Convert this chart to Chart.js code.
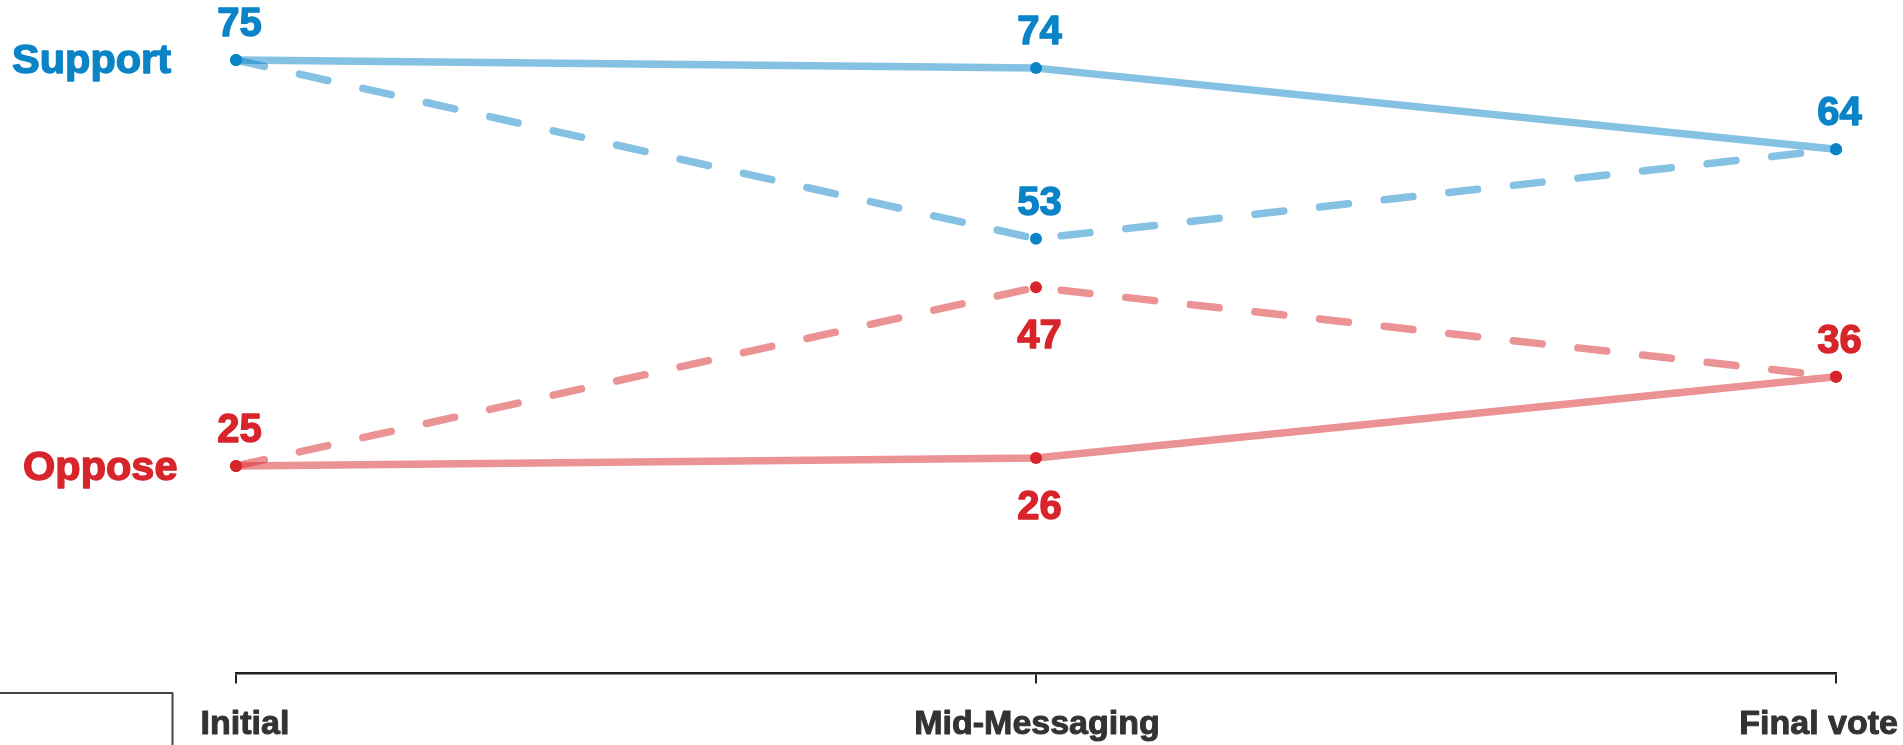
<!DOCTYPE html>
<html>
<head>
<meta charset="utf-8">
<script src="https://cdn.jsdelivr.net/npm/chart.js@4"></script>
<style>
  html, body { margin: 0; padding: 0; background: #ffffff; }
  #wrap { position: relative; width: 1903px; height: 745px; }
</style>
</head>
<body>
<div id="wrap"><canvas id="c"></canvas></div>
<script>
// ---- data ----
const categories = ['Initial', 'Mid-Messaging', 'Final vote'];
const supportSolid  = [75, 74, 64];
const supportDashed = [75, 53, 64];
const opposeSolid   = [25, 26, 36];
const opposeDashed  = [25, 47, 36];
const seriesNames = ['Support', 'Oppose'];

// which values get a printed label, and where (above / below the point)
const supportSolidLabels  = ['above', 'above', 'above'];
const supportDashedLabels = [null, 'above', null];
const opposeSolidLabels   = ['above', 'below', 'above'];
const opposeDashedLabels  = [null, 'below', null];

const BLUE = '#0a84c6';
const RED = '#d7252b';
const BLUE_LINE = 'rgba(10,132,198,0.5)';
const RED_LINE = 'rgba(215,37,43,0.5)';
const FONT = '"Liberation Sans", Arial, Helvetica, sans-serif';

function ds(data, line, point, dashed, labels) {
  return {
    data: data,
    borderColor: line,
    backgroundColor: point,
    pointBackgroundColor: point,
    pointBorderWidth: 0,
    pointRadius: 6,
    pointHoverRadius: 6,
    borderWidth: 7.5,
    borderCapStyle: 'round',
    borderJoinStyle: 'round',
    borderDash: dashed ? [29, 36] : [],
    tension: 0,
    fill: false,
    clip: false,
    valueLabels: labels
  };
}

function boldText(ctx, txt, x, y, color, w) {
  ctx.fillStyle = color;
  ctx.strokeStyle = color;
  ctx.lineWidth = w;
  ctx.lineJoin = 'round';
  ctx.fillText(txt, x, y);
  ctx.strokeText(txt, x, y);
}

const labelPlugin = {
  id: 'labelPlugin',
  afterDraw(chart) {
    const ctx = chart.ctx;
    ctx.save();
    // value labels
    chart.data.datasets.forEach((d, di) => {
      const meta = chart.getDatasetMeta(di);
      d.valueLabels.forEach((pos, i) => {
        if (!pos) return;
        const p = meta.data[i];
        ctx.font = 'bold 40px ' + FONT;
        ctx.textAlign = 'center';
        ctx.textBaseline = 'alphabetic';
        const y = pos === 'above' ? p.y - 24 : p.y + 61;
        boldText(ctx, String(d.data[i]), p.x + 3.5, y, d.backgroundColor, 1.4);
      });
    });
    // series names at the left
    const sMeta = chart.getDatasetMeta(0).data[0];
    const oMeta = chart.getDatasetMeta(2).data[0];
    ctx.font = 'bold 41.5px ' + FONT;
    ctx.textAlign = 'left';
    boldText(ctx, seriesNames[0], 12, sMeta.y + 13, BLUE, 1.4);
    boldText(ctx, seriesNames[1], 23, oMeta.y + 14, RED, 1.4);

    // category labels under the axis
    const xs = chart.scales.x;
    ctx.font = 'bold 34px ' + FONT;
    const bY = 734;
    categories.forEach((c, i) => {
      const x = xs.getPixelForValue(i);
      if (i === 0) { ctx.textAlign = 'center'; boldText(ctx, c, x + 9, bY, '#333333', 1); }
      else if (i === categories.length - 1) { ctx.textAlign = 'right'; boldText(ctx, c, 1898, bY, '#333333', 1); }
      else { ctx.textAlign = 'center'; boldText(ctx, c, x + 1, bY, '#333333', 1); }
    });

    // partial frame at the bottom-left corner
    ctx.strokeStyle = '#444444';
    ctx.lineWidth = 2;
    ctx.beginPath();
    ctx.moveTo(-5, 693);
    ctx.lineTo(172.5, 693);
    ctx.lineTo(172.5, 750);
    ctx.stroke();
    ctx.restore();
  }
};

new Chart(document.getElementById('c'), {
  type: 'line',
  data: {
    labels: categories,
    datasets: [
      ds(supportSolid, BLUE_LINE, BLUE, false, supportSolidLabels),
      ds(supportDashed, BLUE_LINE, BLUE, true, supportDashedLabels),
      ds(opposeSolid, RED_LINE, RED, false, opposeSolidLabels),
      ds(opposeDashed, RED_LINE, RED, true, opposeDashedLabels)
    ]
  },
  options: {
    responsive: true,
    maintainAspectRatio: false,
    animation: false,
    events: [],
    layout: { padding: { left: 236, right: 67, top: 19.4, bottom: 61.5 } },
    plugins: { legend: { display: false }, tooltip: { enabled: false }, title: { display: false } },
    scales: {
      x: {
        type: 'category',
        offset: false,
        grid: {
          display: true,
          drawOnChartArea: false,
          drawTicks: true,
          tickLength: 10,
          tickWidth: 2,
          tickColor: '#222222',
          lineWidth: 2,
          color: '#222222'
        },
        border: { display: true, color: '#222222', width: 2.5 },
        ticks: { display: false }
      },
      y: {
        display: false,
        min: -0.55,
        max: 80
      }
    }
  },
  plugins: [labelPlugin]
});
</script>
</body>
</html>
